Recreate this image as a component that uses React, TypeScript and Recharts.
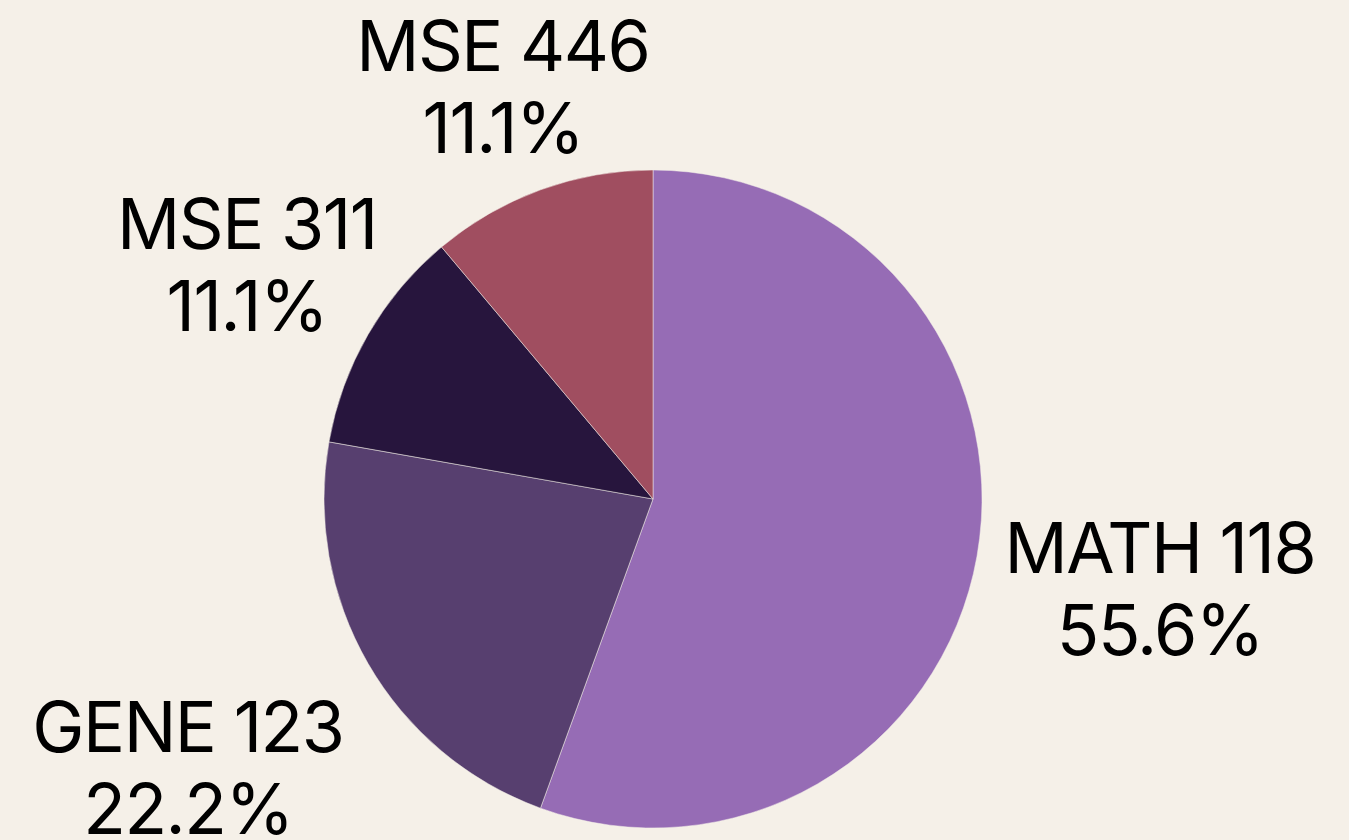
import React from "react";
import { PieChart, Pie, Cell } from "recharts";

const courses = ["MATH 118", "GENE 123", "MSE 311", "MSE 446"];
const counts = [5, 2, 1, 1];
const sliceColors = ["#966CB5", "#573F6F", "#27153D", "#A04E60"];

const data = courses.map((name, i) => ({ name, value: counts[i] }));

const BG = "#F5F0E8";
const RAD = Math.PI / 180;

const renderLabel = (props: any) => {
  const { cx, cy, midAngle, outerRadius, name, percent } = props;
  const ux = Math.cos(midAngle * RAD);
  const uy = -Math.sin(midAngle * RAD);
  const r = outerRadius + 174 + 68 * uy;
  const x = cx + r * ux;
  const y = cy + r * uy;
  return (
    <text
      x={x}
      y={y - 15.5}
      textAnchor="middle"
      fill="#000000"
      style={{ fontFamily: "Inter, 'Liberation Sans', sans-serif", fontSize: 70, letterSpacing: -1.5 }}
    >
      <tspan x={x}>{name}</tspan>
      <tspan x={x} dy={82}>{(percent * 100).toFixed(1) + "%"}</tspan>
    </text>
  );
};

export default function App() {
  return (
    <div style={{ position: "absolute", left: 0, top: 0, width: 1349, height: 840, background: BG, overflow: "hidden" }}>
      <PieChart width={1349} height={840} margin={{ top: 0, right: 0, bottom: 0, left: 0 }}>
        <Pie
          data={data}
          dataKey="value"
          nameKey="name"
          cx={653}
          cy={499}
          outerRadius={329}
          startAngle={90}
          endAngle={-270}
          stroke={BG}
          strokeWidth={0.5}
          label={renderLabel}
          labelLine={false}
          isAnimationActive={false}
        >
          {data.map((d, i) => (
            <Cell key={d.name} fill={sliceColors[i]} />
          ))}
        </Pie>
      </PieChart>
    </div>
  );
}
